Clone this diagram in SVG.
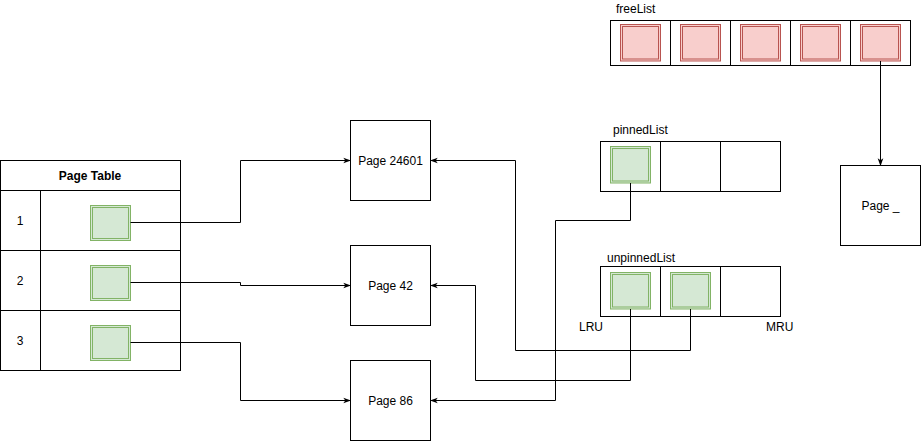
<svg xmlns="http://www.w3.org/2000/svg" width="921" height="441" viewBox="0 0 921 441">
<defs>
<style>
.t{font-family:"Liberation Sans",Arial,sans-serif;font-size:12px;fill:#000}
.c{text-anchor:middle;dominant-baseline:central}
.box{fill:#fff;stroke:#000;stroke-width:1}
.g{fill:#d5e8d4;stroke:#82b366;stroke-width:1}
.gi{fill:none;stroke:#82b366;stroke-width:1}
.r{fill:#f8cecc;stroke:#b85450;stroke-width:1}
.ri{fill:none;stroke:#b85450;stroke-width:1}
.e{fill:none;stroke:#000;stroke-width:1}
</style>
<marker id="ah" viewBox="0 0 10 10" refX="9" refY="5" markerWidth="8" markerHeight="8" orient="auto" markerUnits="userSpaceOnUse">
<path d="M0,1.5 L10,5 L0,8.5 L2.5,5 Z" fill="#000"/>
</marker>
</defs>

<g id="freeList">
<text class="t" x="616" y="13">freeList</text>
<rect class="box" x="610.5" y="20.5" width="300" height="45"/>
<line class="e" x1="670.5" y1="20.5" x2="670.5" y2="65.5"/>
<line class="e" x1="730.5" y1="20.5" x2="730.5" y2="65.5"/>
<line class="e" x1="790.5" y1="20.5" x2="790.5" y2="65.5"/>
<line class="e" x1="850.5" y1="20.5" x2="850.5" y2="65.5"/>
<rect class="r" x="620.5" y="24.5" width="40" height="36.5"/><rect class="ri" x="622.5" y="26.5" width="36" height="32.5"/>
<rect class="r" x="680.5" y="24.5" width="40" height="36.5"/><rect class="ri" x="682.5" y="26.5" width="36" height="32.5"/>
<rect class="r" x="740.5" y="24.5" width="40" height="36.5"/><rect class="ri" x="742.5" y="26.5" width="36" height="32.5"/>
<rect class="r" x="800.5" y="24.5" width="40" height="36.5"/><rect class="ri" x="802.5" y="26.5" width="36" height="32.5"/>
<rect class="r" x="860.5" y="24.5" width="40" height="36.5"/><rect class="ri" x="862.5" y="26.5" width="36" height="32.5"/>
</g>

<g id="pageTable">
<rect class="box" x="0.5" y="160.5" width="180" height="210"/>
<line class="e" x1="0.5" y1="190.5" x2="180.5" y2="190.5"/>
<line class="e" x1="0.5" y1="250.5" x2="180.5" y2="250.5"/>
<line class="e" x1="0.5" y1="310.5" x2="180.5" y2="310.5"/>
<line class="e" x1="40.5" y1="190.5" x2="40.5" y2="370.5"/>
<text class="t c" x="90" y="175.5" font-weight="bold">Page Table</text>
<text class="t c" x="20" y="220.5">1</text>
<text class="t c" x="20" y="280.5">2</text>
<text class="t c" x="20" y="340.5">3</text>
<rect class="g" x="90.5" y="205.5" width="40" height="35"/><rect class="gi" x="92.5" y="207.5" width="36" height="31"/>
<rect class="g" x="90.5" y="265.5" width="40" height="35"/><rect class="gi" x="92.5" y="267.5" width="36" height="31"/>
<rect class="g" x="90.5" y="325.5" width="40" height="35"/><rect class="gi" x="92.5" y="327.5" width="36" height="31"/>
</g>

<g id="page24601">
<rect class="box" x="350.5" y="120.5" width="80" height="80"/>
<text class="t c" x="390.5" y="160.5">Page 24601</text>
</g>
<g id="page42">
<rect class="box" x="350.5" y="245.5" width="80" height="80"/>
<text class="t c" x="390.5" y="285.5">Page 42</text>
</g>
<g id="page86">
<rect class="box" x="350.5" y="360.5" width="80" height="80"/>
<text class="t c" x="390.5" y="400.5">Page 86</text>
</g>
<g id="pageBlank">
<rect class="box" x="840.5" y="165.5" width="80" height="80"/>
<text class="t c" x="880.5" y="205.5">Page _</text>
</g>

<g id="pinnedList">
<text class="t" x="613" y="134">pinnedList</text>
<rect class="box" x="600.5" y="141.5" width="180" height="50"/>
<line class="e" x1="660.5" y1="141.5" x2="660.5" y2="191.5"/>
<line class="e" x1="720.5" y1="141.5" x2="720.5" y2="191.5"/>
<rect class="g" x="610.5" y="146.5" width="40" height="36.5"/><rect class="gi" x="612.5" y="148.5" width="36" height="32.5"/>
</g>

<g id="unpinnedList">
<text class="t" x="607" y="262">unpinnedList</text>
<rect class="box" x="600.5" y="266.5" width="180" height="50"/>
<line class="e" x1="660.5" y1="266.5" x2="660.5" y2="316.5"/>
<line class="e" x1="720.5" y1="266.5" x2="720.5" y2="316.5"/>
<rect class="g" x="610.5" y="272.5" width="40" height="36.5"/><rect class="gi" x="612.5" y="274.5" width="36" height="32.5"/>
<rect class="g" x="670.5" y="272.5" width="40" height="36.5"/><rect class="gi" x="672.5" y="274.5" width="36" height="32.5"/>
<text class="t" x="579" y="331">LRU</text>
<text class="t" x="766" y="331">MRU</text>
</g>

<g id="connectors">
<path class="e" d="M880.5,61 L880.5,165.5" marker-end="url(#ah)"/>
<path class="e" d="M130.5,222.5 L240.5,222.5 L240.5,160.5 L350.5,160.5" marker-end="url(#ah)"/>
<path class="e" d="M130.5,282.5 L240.5,282.5 L240.5,285.5 L350.5,285.5" marker-end="url(#ah)"/>
<path class="e" d="M130.5,342.5 L240.5,342.5 L240.5,400.5 L350.5,400.5" marker-end="url(#ah)"/>
<path class="e" d="M630.5,183 L630.5,220.5 L555.5,220.5 L555.5,400.5 L430.5,400.5" marker-end="url(#ah)"/>
<path class="e" d="M630.5,309 L630.5,380.5 L475.5,380.5 L475.5,285.5 L430.5,285.5" marker-end="url(#ah)"/>
<path class="e" d="M690.5,309 L690.5,350.5 L515.5,350.5 L515.5,160.5 L430.5,160.5" marker-end="url(#ah)"/>
</g>
</svg>
